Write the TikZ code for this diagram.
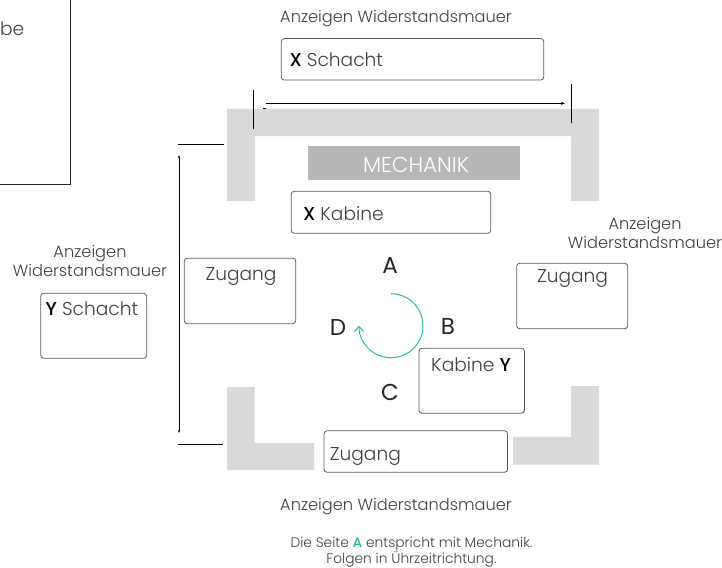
\documentclass[tikz,border=0pt]{standalone}
\usepackage{fontspec}
\setmainfont{Poppins}[UprightFont=* Light,BoldFont=* Medium]
\newfontfamily\sidefont{Poppins}
\usetikzlibrary{arrows.meta,positioning}
\definecolor{wall}{RGB}{217,217,217}
\definecolor{mech}{RGB}{184,183,181}
\definecolor{green}{RGB}{46,190,132}
\definecolor{word}{RGB}{64,64,64}
\definecolor{edge}{RGB}{90,90,90}
\newcommand{\cstkey}[1]{\textcolor{black}{\textbf{#1}}}
\tikzset{
	% arrow
	cstra/.style      ={-Stealth},
	cstturn/.style    ={-{Straight Barb[length=5pt,width=9pt]},green,line width=1pt},
	% fill
	cstwall/.style    ={fill=wall,draw=none},
	% node
	cstbox/.style     ={draw=edge,fill=white,rounded corners=3pt,line width=.8pt,inner sep=0pt},
	cstnote/.style    ={text=word,font=\fontsize{16.2}{19}\selectfont,align=center,inner sep=0pt},
	cstname/.style    ={text=word,font=\fontsize{18.6}{22}\selectfont,inner sep=0pt},
	cstside/.style    ={text=black!85,font=\sidefont\fontsize{23}{24}\selectfont,inner sep=0pt}
}
\begin{document}
\begin{tikzpicture}[x=1pt,y=-1pt]
	\useasboundingbox (0,0) rectangle (722,567);
	% walls
	\fill[cstwall] (227,109) -- (599,109) -- (599,201) -- (571,201) -- (571,136)
		-- (255,136) -- (255,201) -- (227,201) -- cycle;
	\fill[cstwall] (227,387) -- (254.5,387) -- (254.5,443) -- (314,443) -- (314,470) -- (227,470) -- cycle;
	\fill[cstwall] (571,386) -- (599,386) -- (599,464.5) -- (513,464.5) -- (513,437) -- (571,437) -- cycle;
	% cut-off box
	\draw[line width=.9pt,black!85] (70.7,0) -- (70.7,184.3) -- (0,184.3);
	\node[cstname,anchor=east] (rest) at (24.5,28.5) {be};
	% boxes
	\node[cstbox,minimum width=262.5pt,minimum height=41.5pt] (xschacht) at (412.5,59.3) {};
	\node[cstbox,minimum width=199.5pt,minimum height=42pt] (xkabine) at (391,212.3) {};
	\node[cstbox,minimum width=111.5pt,minimum height=65.5pt] (zugangl) at (240,291) {};
	\node[cstbox,minimum width=111pt,minimum height=65.5pt] (zugangr) at (572.2,296) {};
	\node[cstbox,minimum width=105.5pt,minimum height=65pt] (ykabine) at (471.7,380.7) {};
	\node[cstbox,minimum width=183.5pt,minimum height=41.5pt] (zugangu) at (415.8,451.5) {};
	\node[cstbox,minimum width=106pt,minimum height=65pt] (yschacht) at (93.7,325.8) {};
	\node[fill=mech,minimum width=212pt,minimum height=34pt,inner sep=0pt] (mechanik) at (414,163) {};
	\node[text=white,inner sep=0pt,font=\fontsize{21.5}{24}\selectfont] (mechaniktext) at (416,165) {MECHANIK};
	% box texts
	\node[cstname,anchor=west] (xschachttext) at ([xshift=8.5pt,yshift=0pt]xschacht.west) {\cstkey{X} Schacht};
	\node[cstname,anchor=west] (xkabinetext) at ([xshift=12pt,yshift=-1pt]xkabine.west) {\cstkey{X} Kabine};
	\node[cstname] (zugangltext) at (241,276) {Zugang};
	\node[cstname] (zugangrtext) at (572.5,278) {Zugang};
	\node[cstname] (ykabinetext) at (471,365) {Kabine \cstkey{Y}};
	\node[cstname,anchor=west] (zugangutext) at ([xshift=6pt,yshift=-4.5pt]zugangu.west) {Zugang};
	\node[cstname] (yschachttext) at (92,309) {\cstkey{Y} Schacht};
	% notes
	\node[cstnote] (notetop) at (396,19) {Anzeigen Widerstandsmauer};
	\node[cstnote] (noteleft) at (90,261) {Anzeigen\\Widerstandsmauer};
	\node[cstnote] (noteright) at (645,233) {Anzeigen\\Widerstandsmauer};
	\node[cstnote] (notebottom) at (396,507) {Anzeigen Widerstandsmauer};
	\node[cstnote,font=\fontsize{13.8}{16}\selectfont] (notefoot) at (411.5,552)
		{Die Seite \textcolor{green}{\textbf{A}} entspricht mit Mechanik.\\Folgen in Ührzeitrichtung.};
	% sides
	\node[cstside] (sidea) at (390,265.5) {A};
	\node[cstside] (sideb) at (448,326.5) {B};
	\node[cstside] (sidec) at (390,392.5) {C};
	\node[cstside] (sided) at (338,327.5) {D};
	% turning direction
	\draw[cstturn] (391,293.7) arc[start angle=90,delta angle=-270,radius=32pt];
	% measures
	\coordinate (xa) at (253.3,90);
	\coordinate (xb) at (253.3,128.5);
	\coordinate (xc) at (571.3,84);
	\coordinate (xd) at (571.3,123);
	\coordinate (xe) at (265.5,103.3);
	\coordinate (xf) at (565,103.3);
	\coordinate (xg) at (263,108.5);
	\coordinate (xh) at (266,108.5);
	\coordinate (ya) at (178,144.5);
	\coordinate (yb) at (224,144.5);
	\coordinate (yc) at (178,444.3);
	\coordinate (yd) at (223.3,444.3);
	\coordinate (ye) at (179,155);
	\coordinate (yf) at (179,433);
	\draw[line width=.8pt] (xa) -- (xb);
	\draw[line width=.8pt] (xc) -- (xd);
	\draw[cstra,line width=.7pt,arrows={-Stealth[length=4pt,width=3pt]}] (xe) -- (xf);
	\draw[line width=1pt] (xg) -- (xh);
	\draw[line width=.8pt] (ya) -- (yb);
	\draw[line width=.8pt] (yc) -- (yd);
	\draw[line width=.9pt,arrows={Stealth[length=3pt,width=2pt]-Stealth[length=3pt,width=2pt]}] (ye) -- (yf);
\end{tikzpicture}
\end{document}
